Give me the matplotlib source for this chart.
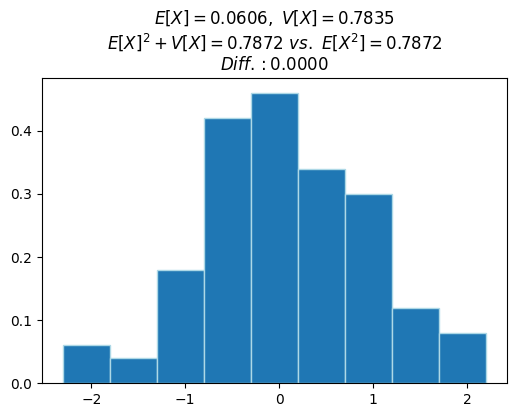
import matplotlib.pyplot as plt

# histogram bin edges and density heights
bin_edges = [-2.3, -1.8, -1.3, -0.8, -0.3, 0.2, 0.7, 1.2, 1.7, 2.2]
densities = [0.06, 0.04, 0.18, 0.42, 0.46, 0.34, 0.30, 0.12, 0.08]

mean_x = 0.0606
var_x = 0.7835
sum_val = 0.7872
mean_x2 = 0.7872
diff = 0.0

title = (
    rf"$E[X]={mean_x:.4f},\ V[X]={var_x:.4f}$" "\n"
    rf"$E[X]^2+V[X]={sum_val:.4f}\ vs.\ E[X^2]={mean_x2:.4f}$" "\n"
    rf"$Diff.:{diff:.4f}$"
)


def main():
    fig = plt.figure(figsize=(5.16, 4.17), dpi=100)
    ax = fig.add_axes([42 / 516, 33.7 / 417, 465 / 516, 305 / 417])

    widths = [b - a for a, b in zip(bin_edges[:-1], bin_edges[1:])]
    ax.bar(bin_edges[:-1], densities, width=widths, align="edge",
           color="#1f77b4", edgecolor="lightblue", linewidth=1)

    ax.set_title(title, fontsize=12)

    fig.savefig("out.png", dpi=100)
    plt.close(fig)


if __name__ == "__main__":
    main()
